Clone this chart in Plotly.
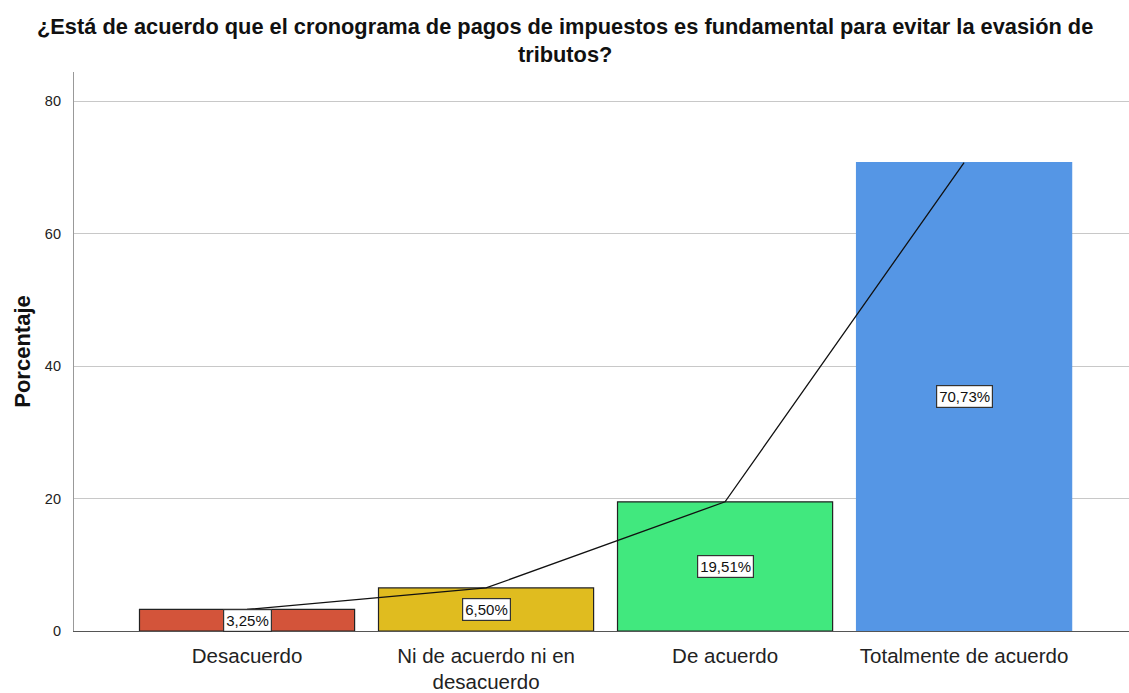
import plotly.graph_objects as go

# Survey responses and their percentages
categorias = ["Desacuerdo", "Ni de acuerdo ni en<br>desacuerdo", "De acuerdo", "Totalmente de acuerdo"]
porcentajes = [3.25, 6.50, 19.51, 70.73]
colores = ["#D3543A", "#E0BC1F", "#41E87E", "#5596E5"]
bordes = ["#222222", "#222222", "#222222", "#5596E5"]
y_ticks = [0, 20, 40, 60, 80]

titulo = ("¿Está de acuerdo que el cronograma de pagos de impuestos es fundamental para evitar la evasión de"
          "<br>tributos?")
etiquetas = [f"{v:.2f}%".replace(".", ",") for v in porcentajes]

FONT = "Liberation Sans, Arial"

fig = go.Figure()

fig.add_trace(go.Bar(
    x=categorias,
    y=porcentajes,
    width=0.9,
    marker=dict(color=colores, line=dict(color=bordes, width=1.2)),
    hoverinfo="skip",
    showlegend=False,
))

fig.add_trace(go.Scatter(
    x=categorias,
    y=porcentajes,
    mode="lines",
    line=dict(color="#111111", width=1.3),
    hoverinfo="skip",
    showlegend=False,
))

for cat, v, txt in zip(categorias, porcentajes, etiquetas):
    fig.add_annotation(
        x=cat, y=v / 2, text=txt, showarrow=False,
        font=dict(family=FONT, size=15, color="#111111"),
        bgcolor="white", bordercolor="#333333", borderwidth=1.2, borderpad=2,
    )

# chart title
fig.add_annotation(
    text=titulo, showarrow=False,
    xref="paper", yref="paper", x=0.465, y=1.0572,
    xanchor="center", yanchor="middle",
    font=dict(family=FONT, size=21.8, color="#111111", weight="bold"),
)

fig.update_layout(
    width=1129, height=693,
    margin=dict(l=74, r=0, t=72, b=62),
    paper_bgcolor="white", plot_bgcolor="white",
    font=dict(family=FONT, color="#222222"),
)

fig.update_xaxes(
    range=[-0.724, 3.69],
    automargin=False,
    showgrid=False,
    showline=True, linecolor="#555555", linewidth=1.2,
    ticks="", ticklabelstandoff=6,
    tickfont=dict(family=FONT, size=20.5, color="#222222"),
)

fig.update_yaxes(
    range=[0, 84.4],
    automargin=False,
    tickvals=y_ticks,
    showgrid=True, gridcolor="#C8C8C8", gridwidth=1.2,
    zeroline=False,
    showline=True, linecolor="#999999", linewidth=1.2,
    ticks="", ticklabelstandoff=9,
    tickfont=dict(family=FONT, size=14.5, color="#222222"),
    title=dict(text="Porcentaje", font=dict(family=FONT, size=22, color="#111111", weight="bold"),
               standoff=8),
)

fig.write_html("out.html")
